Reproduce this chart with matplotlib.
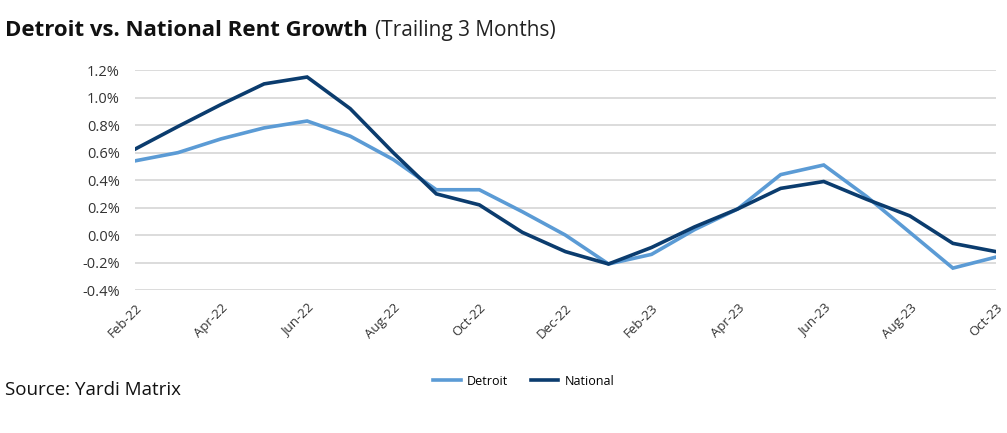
import matplotlib
matplotlib.use("Agg")
import matplotlib.pyplot as plt
from matplotlib.ticker import FuncFormatter

plt.rcParams['font.family'] = ['Open Sans', 'DejaVu Sans']

months = ["Feb-22", "Mar-22", "Apr-22", "May-22", "Jun-22", "Jul-22", "Aug-22",
          "Sep-22", "Oct-22", "Nov-22", "Dec-22", "Jan-23", "Feb-23", "Mar-23",
          "Apr-23", "May-23", "Jun-23", "Jul-23", "Aug-23", "Sep-23", "Oct-23"]
detroit = [0.54, 0.60, 0.70, 0.78, 0.83, 0.72, 0.55, 0.33, 0.33, 0.17, 0.00,
           -0.21, -0.14, 0.04, 0.19, 0.44, 0.51, 0.28, 0.02, -0.24, -0.16]
national = [0.625, 0.79, 0.95, 1.10, 1.15, 0.92, 0.60, 0.30, 0.22, 0.02, -0.12,
            -0.21, -0.09, 0.06, 0.19, 0.34, 0.39, 0.26, 0.14, -0.06, -0.12]
yticks = [-0.4, -0.2, 0.0, 0.2, 0.4, 0.6, 0.8, 1.0, 1.2]

c_det = "#5b9bd5"
c_nat = "#0b3c6e"

fig = plt.figure(figsize=(10.07, 4.33), dpi=100)
ax = fig.add_axes([0.134, 0.330, 0.855, 0.508])

x = list(range(len(months)))
ax.plot(x, detroit, color=c_det, lw=2.6, label="Detroit", solid_joinstyle="miter")
ax.plot(x, national, color=c_nat, lw=2.6, label="National", solid_joinstyle="miter")

ax.set_xlim(0, len(months) - 1)
ax.set_ylim(-0.4, 1.2)
ax.set_yticks(yticks)
ax.yaxis.set_major_formatter(FuncFormatter(lambda v, p: f"{v:.1f}%"))
ax.set_xticks(x[::2])
ax.set_xticklabels(months[::2], rotation=45, ha="right", rotation_mode="anchor")
ax.grid(axis="y", color="#d9d9d9", lw=1.3)
ax.set_axisbelow(True)
for s in ax.spines.values():
    s.set_visible(False)
ax.tick_params(axis="both", length=0, colors="#333333")
ax.tick_params(axis="y", labelsize=10.5, pad=11)
ax.tick_params(axis="x", labelsize=9.5, pad=8)

# title in two weights
t1 = fig.text(0.005, 0.93, "Detroit vs. National Rent Growth", fontsize=16,
              fontweight="bold", color="#111111", va="center")
fig.canvas.draw()
bb = t1.get_window_extent()
fig.text(bb.x1 / fig.bbox.width + 0.007, 0.93, "(Trailing 3 Months)", fontsize=15,
         color="#222222", va="center")

fig.text(0.005, 0.10, "Source: Yardi Matrix", fontsize=13.5, color="#111111", va="center")

fig.legend(loc="center", bbox_to_anchor=(0.52, 0.12), ncol=2, frameon=False,
           fontsize=9, handlelength=2.2, columnspacing=1.8, handletextpad=0.5)

fig.savefig("out.png", dpi=100)
